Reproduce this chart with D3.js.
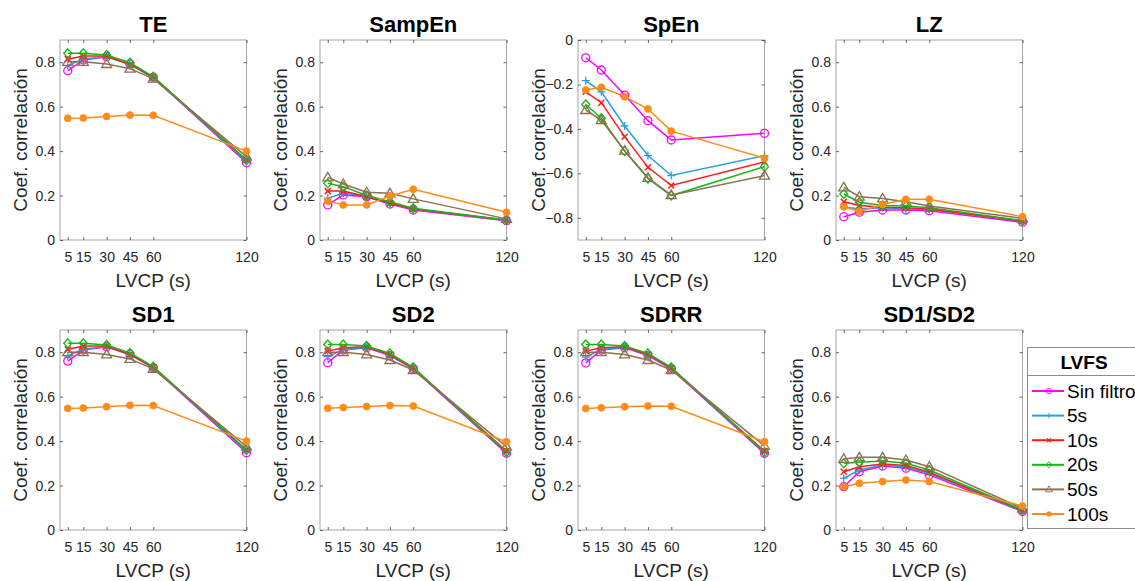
<!DOCTYPE html>
<html>
<head>
<meta charset="utf-8">
<script src="https://cdn.jsdelivr.net/npm/d3@7/dist/d3.min.js"></script>
<style>
  body { margin: 0; background: #fff; }
  svg { display: block; font-family: "Liberation Sans", Arial, sans-serif; }
</style>
</head>
<body>
<div id="chart"></div>
<script>
// data
var lvcp = [5, 15, 30, 45, 60, 120];
var seriesNames = ['Sin filtro', '5s', '10s', '20s', '50s', '100s'];
var panelTitles = ['TE', 'SampEn', 'SpEn', 'LZ', 'SD1', 'SD2', 'SDRR', 'SD1/SD2'];
var yTicksPos = [0, 0.2, 0.4, 0.6, 0.8];
var yTicksNeg = [-0.8, -0.6, -0.4, -0.2, 0];

// one row per series (Sin filtro, 5s, 10s, 20s, 50s, 100s), one value per LVCP
var te = [
  [0.762, 0.810, 0.825, 0.792, 0.732, 0.348],
  [0.785, 0.815, 0.825, 0.790, 0.730, 0.355],
  [0.813, 0.828, 0.828, 0.790, 0.733, 0.360],
  [0.840, 0.840, 0.833, 0.798, 0.735, 0.360],
  [0.802, 0.802, 0.792, 0.771, 0.726, 0.375],
  [0.548, 0.549, 0.556, 0.562, 0.561, 0.400]
];
var sampEn = [
  [0.158, 0.203, 0.195, 0.162, 0.135, 0.087],
  [0.188, 0.210, 0.200, 0.165, 0.140, 0.088],
  [0.220, 0.220, 0.195, 0.165, 0.140, 0.090],
  [0.255, 0.240, 0.200, 0.172, 0.143, 0.090],
  [0.282, 0.252, 0.215, 0.210, 0.185, 0.095],
  [0.176, 0.158, 0.158, 0.198, 0.228, 0.125]
];
var spEn = [
  [-0.080, -0.135, -0.248, -0.363, -0.450, -0.420],
  [-0.183, -0.233, -0.387, -0.520, -0.610, -0.520],
  [-0.233, -0.282, -0.435, -0.573, -0.655, -0.548],
  [-0.290, -0.352, -0.500, -0.623, -0.700, -0.570],
  [-0.315, -0.360, -0.498, -0.620, -0.698, -0.610],
  [-0.225, -0.213, -0.255, -0.310, -0.410, -0.532]
];
var lz = [
  [0.105, 0.125, 0.135, 0.135, 0.132, 0.080],
  [0.150, 0.140, 0.145, 0.140, 0.138, 0.085],
  [0.172, 0.155, 0.147, 0.145, 0.140, 0.085],
  [0.207, 0.170, 0.155, 0.153, 0.145, 0.087],
  [0.237, 0.195, 0.187, 0.172, 0.153, 0.097],
  [0.150, 0.128, 0.160, 0.183, 0.183, 0.105]
];
var sd1 = [
  [0.760, 0.810, 0.825, 0.790, 0.730, 0.348],
  [0.783, 0.815, 0.825, 0.790, 0.730, 0.355],
  [0.812, 0.828, 0.828, 0.790, 0.732, 0.360],
  [0.840, 0.840, 0.833, 0.797, 0.735, 0.360],
  [0.800, 0.800, 0.790, 0.770, 0.725, 0.375],
  [0.547, 0.549, 0.555, 0.561, 0.560, 0.400]
];
var sd2 = [
  [0.753, 0.810, 0.820, 0.785, 0.725, 0.345],
  [0.780, 0.812, 0.822, 0.788, 0.727, 0.350],
  [0.805, 0.820, 0.825, 0.790, 0.728, 0.355],
  [0.835, 0.835, 0.828, 0.795, 0.732, 0.350],
  [0.800, 0.800, 0.790, 0.765, 0.720, 0.375],
  [0.548, 0.551, 0.556, 0.560, 0.558, 0.397]
];
var sdrr = [
  [0.752, 0.810, 0.820, 0.785, 0.725, 0.345],
  [0.778, 0.812, 0.822, 0.788, 0.727, 0.350],
  [0.805, 0.820, 0.825, 0.790, 0.728, 0.355],
  [0.835, 0.835, 0.828, 0.795, 0.732, 0.350],
  [0.800, 0.800, 0.790, 0.765, 0.720, 0.378],
  [0.547, 0.550, 0.555, 0.558, 0.557, 0.397]
];
var sd1sd2 = [
  [0.195, 0.262, 0.288, 0.278, 0.248, 0.083],
  [0.233, 0.270, 0.292, 0.283, 0.255, 0.085],
  [0.262, 0.285, 0.297, 0.290, 0.260, 0.087],
  [0.300, 0.305, 0.310, 0.300, 0.270, 0.090],
  [0.320, 0.327, 0.327, 0.315, 0.285, 0.097],
  [0.195, 0.210, 0.218, 0.225, 0.218, 0.108]
];
var panelData = [te, sampEn, spEn, lz, sd1, sd2, sdrr, sd1sd2];

// styles
var colors = ['#ff00ff', '#2a9fdc', '#ff1a1a', '#12b812', '#8c7050', '#ff8c1a'];
var markers = ['circle', 'plus', 'cross', 'diamond', 'triangle', 'dot'];

var chart_width = 1135;
var chart_height = 581;
var colX = [60, 320, 578, 836];
var rowY = [40, 330];
var plot_w = 186.5;
var plot_h = 200;
var textColor = '#262626';

var svg = d3.select('#chart')
  .append('svg')
  .attr('width', chart_width)
  .attr('height', chart_height);

// k scales the marker size (legend markers are smaller)
function drawMarker(g, type, color, x, y, k) {
  k = k || 1;
  var m = g.append('g').attr('transform', 'translate(' + x + ',' + y + ') scale(' + k + ')');
  if (type === 'circle') {
    m.append('circle').attr('r', 4)
      .attr('fill', 'none').attr('stroke', color).attr('stroke-width', 1.3);
  } else if (type === 'plus') {
    m.append('path').attr('d', 'M-4,0H4M0,-4V4')
      .attr('stroke', color).attr('stroke-width', 1.3);
  } else if (type === 'cross') {
    m.append('path').attr('d', 'M-3,-3L3,3M-3,3L3,-3')
      .attr('stroke', color).attr('stroke-width', 1.5);
  } else if (type === 'diamond') {
    m.append('path').attr('d', 'M0,-4.5L4,0L0,4.5L-4,0Z')
      .attr('fill', 'none').attr('stroke', color).attr('stroke-width', 1.3);
  } else if (type === 'triangle') {
    m.append('path').attr('d', 'M0,-5L5,3.5L-5,3.5Z')
      .attr('fill', 'none').attr('stroke', color).attr('stroke-width', 1.3);
  } else {
    m.append('circle').attr('r', 3.5)
      .attr('fill', color).attr('stroke', color).attr('stroke-width', 0.8);
  }
}

panelData.forEach(function(data, p) {
  var left = colX[p % 4];
  var top = rowY[Math.floor(p / 4)];
  var negative = (p === 2);

  var x_scale = d3.scaleLinear().domain([0, 120]).range([left, left + plot_w]);
  var y_scale = d3.scaleLinear()
    .domain(negative ? [-0.9, 0] : [0, 0.9])
    .range([top + plot_h, top]);
  var yTicks = negative ? yTicksNeg : yTicksPos;

  var g = svg.append('g');

  g.append('rect')
    .attr('x', left).attr('y', top)
    .attr('width', plot_w).attr('height', plot_h)
    .attr('fill', '#fff').attr('stroke', '#a6a6a6').attr('stroke-width', 1);

  // axes
  var axes = [
    [d3.axisLeft(y_scale).tickValues(yTicks).tickSize(-3).tickPadding(5).tickFormat(d3.format('')), 'translate(' + left + ',0)'],
    [d3.axisRight(y_scale).tickValues(yTicks).tickSize(-3).tickFormat(''), 'translate(' + (left + plot_w) + ',0)'],
    [d3.axisBottom(x_scale).tickValues(lvcp).tickSize(-3).tickPadding(12), 'translate(0,' + (top + plot_h) + ')'],
    [d3.axisTop(x_scale).tickValues(lvcp).tickSize(-3).tickFormat(''), 'translate(0,' + top + ')']
  ];
  axes.forEach(function(a) {
    var ax = g.append('g').attr('transform', a[1]).call(a[0]);
    ax.select('.domain').remove();
    ax.selectAll('.tick line').attr('stroke', '#404040').attr('stroke-width', 0.8);
    ax.selectAll('.tick text').attr('fill', textColor).style('font-size', '14px');
  });

  // labels
  g.append('text')
    .attr('x', left + plot_w / 2).attr('y', top - 8)
    .attr('text-anchor', 'middle')
    .style('font-size', '22px').style('font-weight', 'bold').attr('fill', '#000')
    .text(panelTitles[p]);
  g.append('text')
    .attr('x', left + plot_w / 2).attr('y', top + plot_h + 47)
    .attr('text-anchor', 'middle')
    .style('font-size', '19px').attr('fill', textColor)
    .text('LVCP (s)');
  g.append('text')
    .attr('transform', 'translate(' + (left - 40) + ',' + (top + plot_h / 2) + ') rotate(-90)')
    .attr('dy', '0.35em')
    .attr('text-anchor', 'middle')
    .style('font-size', '19px').attr('fill', textColor)
    .text('Coef. correlación');

  // series
  var line = d3.line()
    .x(function(d, i) { return x_scale(lvcp[i]); })
    .y(function(d) { return y_scale(d); });

  data.forEach(function(values, s) {
    g.append('path')
      .datum(values)
      .attr('fill', 'none')
      .attr('stroke', colors[s])
      .attr('stroke-width', 1.5)
      .attr('d', line);
    values.forEach(function(v, i) {
      drawMarker(g, markers[s], colors[s], x_scale(lvcp[i]), y_scale(v));
    });
  });
});

// legend
var lg = svg.append('g');
var lgLeft = 1027.5, lgTop = 347.5, lgBottom = 528.5, lgRight = 1145;
lg.append('rect')
  .attr('x', lgLeft).attr('y', lgTop)
  .attr('width', lgRight - lgLeft).attr('height', lgBottom - lgTop)
  .attr('fill', '#fff').attr('stroke', '#8c8c8c').attr('stroke-width', 1);
lg.append('line')
  .attr('x1', lgLeft).attr('x2', lgRight)
  .attr('y1', 375.5).attr('y2', 375.5)
  .attr('stroke', '#8c8c8c');
lg.append('text')
  .attr('x', 1084).attr('y', 369)
  .attr('text-anchor', 'middle')
  .style('font-size', '19px').style('font-weight', 'bold').attr('fill', '#000')
  .text('LVFS');
seriesNames.forEach(function(name, s) {
  var y = 391 + s * 24.6;
  lg.append('line')
    .attr('x1', 1032).attr('x2', 1064)
    .attr('y1', y).attr('y2', y)
    .attr('stroke', colors[s]).attr('stroke-width', 2);
  drawMarker(lg, markers[s], colors[s], 1049, y, 0.7);
  lg.append('text')
    .attr('x', 1067).attr('y', y)
    .attr('dy', '0.35em')
    .style('font-size', '19px').attr('fill', '#000')
    .text(name);
});
</script>
</body>
</html>
